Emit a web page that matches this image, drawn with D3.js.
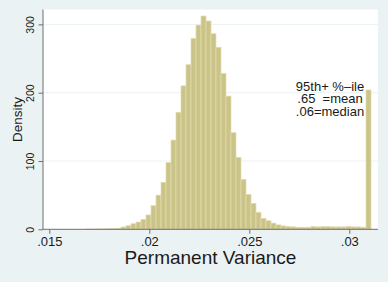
<!DOCTYPE html>
<html><head><meta charset="utf-8">
<script src="https://cdn.jsdelivr.net/npm/d3@7"></script>
<style>html,body{margin:0;padding:0;background:#eaf2f3;}svg{display:block;font-family:"Liberation Sans",Arial,sans-serif;}</style>
</head><body>
<svg id="c" width="388" height="282"></svg>
<script>
const binLo = [0.016835,0.017085,0.017335,0.017585,0.017835,0.018085,0.018335,0.018585,0.018835,0.019085,0.019335,0.019585,
0.019835,0.020085,0.020335,0.020585,0.020835,0.021085,0.021335,0.021585,0.021835,0.022085,0.022335,0.022585,0.022835,0.023085,
0.023335,0.023585,0.023835,0.024085,0.024335,0.024585,0.024835,0.025085,0.025335,0.025585,0.025835,0.026085,0.026335,0.026585,
0.026835,0.027085,0.027335,0.027585,0.027835,0.028085,0.028335,0.028585,0.028835,0.029085,0.029335,0.029585,0.029835,0.030085,
0.030335,0.030585,0.030835];
const binWidth = 0.00025;
const density = [0.3,0.3,0.5,0.5,0.8,1,1.5,3.4,5.3,8.2,10.7,14.6,
21,34.6,50,68.8,97.6,130.7,171.3,210,241,279.6,299,312.3,305,286.4,266.5,228.4,195,141.4,105.4,73.2,51.2,38,24.9,16.1,12.6,
9,6.5,5,4,3.5,3,3,3,4,3.5,4,4,3.5,3.5,3.5,4,3.5,3.5,3,204];
const xTicks = [0.015,0.02,0.025,0.03];
const xTickLabels = [".015",".02",".025",".03"];
const yTicks = [0,100,200,300];
const yTickLabels = ["0","100","200","300"];
const noteLines = ["95th+ %\u2013ile",".65  =mean",".06=median"];
const xTitle = "Permanent Variance", yTitle = "Density";

const svg = d3.select("#c");
const L=43, R=378, T=9.5, B=229.3;
const x = d3.scaleLinear().domain([0.014685,0.031435]).range([L,R]);
const y = d3.scaleLinear().domain([0,321.8]).range([B,T]);

svg.append("rect").attr("width",388).attr("height",282).attr("fill","#eaf2f3");
svg.append("rect").attr("x",L).attr("y",T).attr("width",R-L).attr("height",B-T).attr("fill","#ffffff");

// gridlines
svg.append("g").selectAll("line").data(yTicks.filter(d=>d>0)).join("line")
  .attr("x1",L).attr("x2",R).attr("y1",d=>y(d)).attr("y2",d=>y(d))
  .attr("stroke","#eaf2f3").attr("stroke-width",1);

// bars
const bins = binLo.map((lo,i)=>({lo, hi: lo+binWidth, v: density[i]}));
svg.append("g").selectAll("rect").data(bins).join("rect")
  .attr("x",d=>x(d.lo)).attr("width",d=>x(d.hi)-x(d.lo))
  .attr("y",d=>y(d.v)).attr("height",d=>y(0)-y(d.v))
  .attr("fill","#cbc489").attr("stroke","#e2dcb0").attr("stroke-width",0.7);

// y axis
const yAxis = d3.axisLeft(y).tickValues(yTicks).tickFormat((d,i)=>yTickLabels[i]).tickSize(4.5).tickPadding(4);
const gy = svg.append("g").attr("transform",`translate(${L},0)`).call(yAxis);
gy.select(".domain").attr("d",`M0,${B}V${T}`).attr("stroke","#6e6e6e");
gy.selectAll(".tick line").attr("stroke","#6e6e6e");
gy.selectAll(".tick text").attr("font-size",10.5).attr("fill","#1a1a1a")
  .attr("font-family","Liberation Sans, Arial, sans-serif")
  .attr("transform","rotate(-90)").attr("x",0).attr("y",-8.7).attr("dy",0).attr("text-anchor","middle");

// x axis
const xAxis = d3.axisBottom(x).tickValues(xTicks).tickFormat((d,i)=>xTickLabels[i]).tickSize(4.5).tickPadding(3);
const gx = svg.append("g").attr("transform",`translate(0,${B})`).call(xAxis);
gx.select(".domain").attr("d",`M${L},0H${R}`).attr("stroke","#6e6e6e");
gx.selectAll(".tick line").attr("stroke","#6e6e6e");
gx.selectAll(".tick text").attr("font-size",13).attr("fill","#1a1a1a")
  .attr("font-family","Liberation Sans, Arial, sans-serif").attr("dy",0).attr("y",16.5);

// titles
svg.append("text").attr("x",(L+R)/2).attr("y",264).attr("text-anchor","middle")
  .attr("font-size",19).attr("fill","#1a1a1a").text(xTitle);
svg.append("text").attr("transform",`translate(22,${(T+B)/2}) rotate(-90)`).attr("text-anchor","middle")
  .attr("font-size",13.5).attr("fill","#1a1a1a").text(yTitle);

// note
const noteX = 0.029035, noteY = [203, 184.4, 165.8];
svg.append("g").selectAll("text").data(noteLines).join("text")
  .attr("x",x(noteX)).attr("y",(d,i)=>y(noteY[i])).attr("text-anchor","middle")
  .attr("font-size",13).attr("fill","#1a1a1a").attr("xml:space","preserve").style("white-space","pre").text(d=>d);
</script>
</body></html>
